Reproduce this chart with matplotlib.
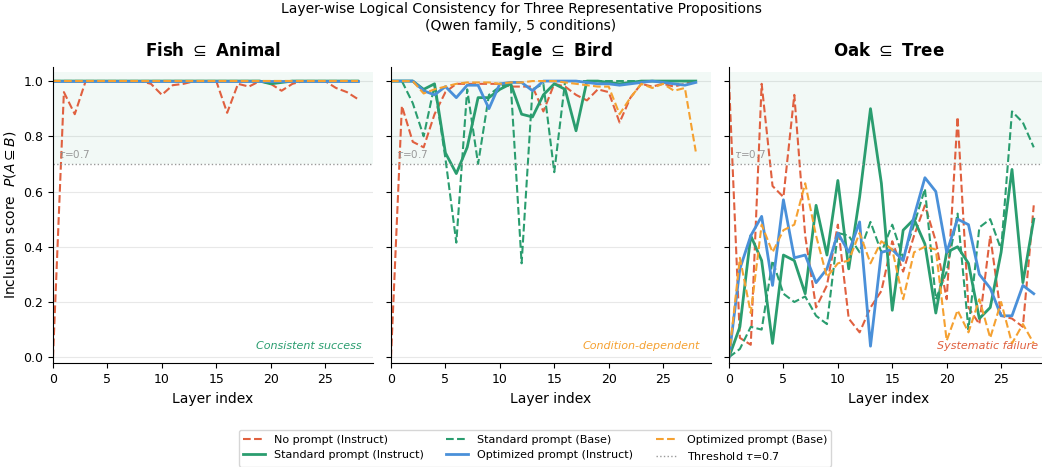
import numpy as np
import matplotlib
matplotlib.use('Agg')
import matplotlib.pyplot as plt

layers = list(range(29))
props = ['Fish $\\subseteq$ Animal', 'Eagle $\\subseteq$ Bird', 'Oak $\\subseteq$ Tree']
notes = ['Consistent success', 'Condition-dependent', 'Systematic failure']
conditions = ['No prompt (Instruct)', 'Standard prompt (Instruct)', 'Standard prompt (Base)',
              'Optimized prompt (Instruct)', 'Optimized prompt (Base)']
threshold = 0.7

# Fish in Animal
no_prompt_fish = [0.0, 0.96, 0.88, 1.0, 1.0, 1.0, 1.0, 1.0, 1.0, 0.99, 0.95, 0.985, 0.99, 1.0, 1.0,
                  1.0, 0.885, 0.99, 0.98, 1.0, 0.99, 0.965, 0.99, 1.0, 1.0, 1.0, 0.975, 0.96, 0.935]
std_inst_fish = [1.0] * 20 + [0.99, 0.995] + [1.0] * 7
std_base_fish = [1.0] * 29
opt_inst_fish = [1.0] * 29
opt_base_fish = [1.0] * 29

# Eagle in Bird
no_prompt_eagle = [0.0, 0.91, 0.78, 0.76, 0.88, 0.96, 0.99, 0.99, 0.99, 0.99, 0.99, 0.98, 0.98, 0.98, 0.89,
                   0.99, 0.98, 0.95, 0.93, 0.97, 0.96, 0.85, 0.94, 0.99, 0.98, 0.99, 0.98, 0.99, 1.0]
std_inst_eagle = [1.0, 1.0, 1.0, 0.97, 0.99, 0.74, 0.665, 0.76, 0.94, 0.94, 0.97, 0.99, 0.88, 0.87, 0.95,
                  0.99, 0.97, 0.82, 1.0, 1.0, 0.995, 0.99, 0.995, 1.0, 1.0, 1.0, 1.0, 1.0, 1.0]
std_base_eagle = [1.0, 1.0, 0.92, 0.80, 0.985, 0.72, 0.415, 0.97, 0.70, 0.95, 0.98, 0.99, 0.34, 0.97, 0.99,
                  0.67, 1.0, 1.0, 1.0, 1.0, 1.0, 1.0, 1.0, 1.0, 1.0, 1.0, 1.0, 1.0, 1.0]
opt_inst_eagle = [1.0, 1.0, 1.0, 0.965, 0.95, 0.98, 0.94, 0.985, 0.985, 0.90, 0.99, 0.995, 0.995, 0.965, 1.0,
                  1.0, 1.0, 1.0, 0.995, 0.99, 0.99, 0.985, 0.99, 0.995, 1.0, 0.995, 0.99, 0.985, 0.995]
opt_base_eagle = [1.0, 1.0, 1.0, 0.955, 0.97, 0.98, 0.99, 0.995, 0.995, 0.995, 0.99, 0.995, 0.995, 1.0, 1.0,
                  1.0, 0.995, 0.99, 0.985, 0.98, 0.98, 0.88, 0.94, 0.99, 0.975, 0.99, 0.965, 0.975, 0.745]

# Oak in Tree
no_prompt_oak = [1.0, 0.07, 0.045, 0.99, 0.62, 0.58, 0.95, 0.44, 0.18, 0.26, 0.48, 0.14, 0.09, 0.18, 0.24,
                 0.42, 0.31, 0.44, 0.55, 0.42, 0.21, 0.87, 0.18, 0.12, 0.44, 0.15, 0.14, 0.11, 0.55]
std_inst_oak = [0.0, 0.11, 0.44, 0.35, 0.05, 0.37, 0.35, 0.23, 0.55, 0.37, 0.64, 0.32, 0.58, 0.90, 0.63,
                0.17, 0.46, 0.50, 0.41, 0.16, 0.38, 0.40, 0.34, 0.14, 0.18, 0.38, 0.68, 0.27, 0.50]
std_base_oak = [0.0, 0.03, 0.11, 0.10, 0.35, 0.23, 0.20, 0.22, 0.15, 0.12, 0.45, 0.44, 0.38, 0.49, 0.38,
                0.48, 0.36, 0.48, 0.61, 0.21, 0.31, 0.52, 0.10, 0.47, 0.50, 0.39, 0.89, 0.85, 0.76]
opt_inst_oak = [0.0, 0.32, 0.44, 0.51, 0.26, 0.57, 0.36, 0.37, 0.27, 0.32, 0.45, 0.38, 0.49, 0.04, 0.38,
                0.39, 0.35, 0.51, 0.65, 0.60, 0.38, 0.50, 0.48, 0.30, 0.25, 0.15, 0.15, 0.26, 0.23]
opt_base_oak = [0.0, 0.36, 0.16, 0.48, 0.38, 0.46, 0.48, 0.63, 0.44, 0.29, 0.34, 0.35, 0.45, 0.34, 0.42,
                0.39, 0.21, 0.38, 0.40, 0.39, 0.06, 0.17, 0.09, 0.21, 0.07, 0.20, 0.05, 0.12, 0.05]

panels = [
    [no_prompt_fish, std_inst_fish, std_base_fish, opt_inst_fish, opt_base_fish],
    [no_prompt_eagle, std_inst_eagle, std_base_eagle, opt_inst_eagle, opt_base_eagle],
    [no_prompt_oak, std_inst_oak, std_base_oak, opt_inst_oak, opt_base_oak],
]

red = '#e0603f'
green = '#2a9d6f'
blue = '#4a90d9'
orange = '#f5a131'
colors = [red, green, green, blue, orange]
styles = ['--', '-', '--', '-', '--']
widths = [1.5, 2.0, 1.5, 2.0, 1.5]
note_colors = [green, orange, red]

fig = plt.figure(figsize=(10.42, 4.67), dpi=100)
fig.suptitle('Layer-wise Logical Consistency for Three Representative Propositions\n(Qwen family, 5 conditions)',
             fontsize=10, y=0.995)

lefts = [53, 391, 729]
axes = []
for k in range(3):
    ax = fig.add_axes([lefts[k] / 1042, 1 - 363.3 / 467, 320 / 1042, 296.6 / 467])
    axes.append(ax)
    ax.axhspan(threshold, 1.033, color=green, alpha=0.06, lw=0)
    for y in [0.0, 0.2, 0.4, 0.6, 0.8, 1.0]:
        ax.axhline(y, color='#e8e8e8', lw=0.8, zorder=0)
    for i in range(5):
        ax.plot(layers, panels[k][i], ls=styles[i], color=colors[i], lw=widths[i], label=conditions[i])
    ax.axhline(threshold, color='#999999', ls=':', lw=1.0, label='Threshold $\\tau$=0.7')
    ax.text(0.5, 0.715, '$\\tau$=0.7', color='#999999', fontsize=7.5, va='bottom')
    ax.text(0.966, 0.058, notes[k], transform=ax.transAxes, ha='right', va='center',
            fontsize=8, style='italic', color=note_colors[k])
    ax.set_xlim(0, 29.4)
    ax.set_ylim(-0.022, 1.052)
    ax.set_xticks([0, 5, 10, 15, 20, 25])
    ax.set_yticks([0.0, 0.2, 0.4, 0.6, 0.8, 1.0])
    ax.set_title(props[k], fontsize=12, fontweight='bold', pad=8)
    ax.set_xlabel('Layer index', fontsize=10)
    ax.spines['top'].set_visible(False)
    ax.spines['right'].set_visible(False)
    ax.tick_params(labelsize=9)
    if k > 0:
        ax.tick_params(labelleft=False)

axes[0].set_ylabel('Inclusion score  $P(A \\subseteq B)$', fontsize=10)

handles, labels = axes[0].get_legend_handles_labels()
fig.legend(handles, labels, loc='center', bbox_to_anchor=(535 / 1042, 0.04), ncol=3, fontsize=8,
           frameon=True, edgecolor='#cccccc')

fig.savefig('out.png', dpi=100)
